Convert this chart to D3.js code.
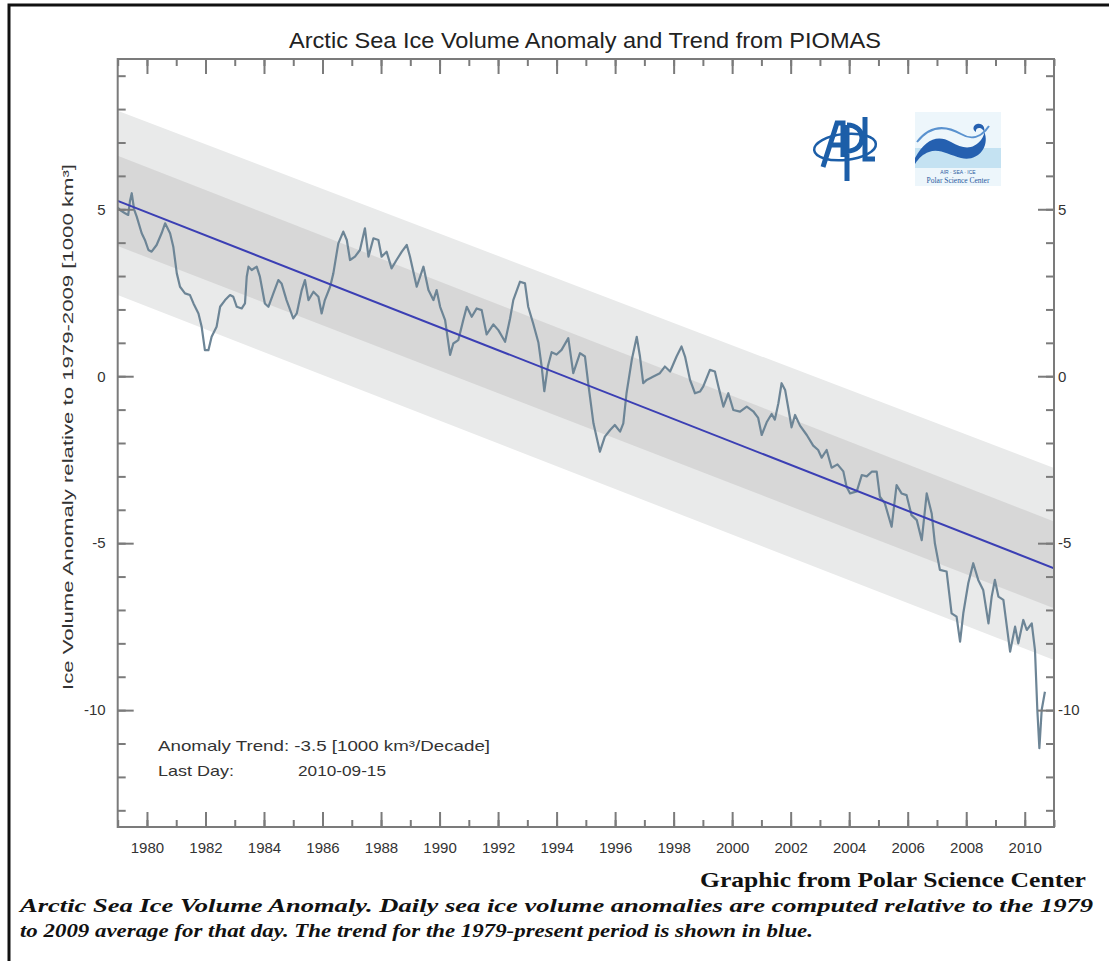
<!DOCTYPE html>
<html><head><meta charset="utf-8">
<script src="https://cdn.jsdelivr.net/npm/d3@7"></script>
<style>html,body{margin:0;padding:0;background:#fff;}svg{display:block;}</style>
</head><body>
<svg id="chart" width="1109" height="961"></svg>
<script>
// ---- data ----
const anomalyYears = [1979.00,1979.12,1979.25,1979.36,1979.42,1979.48,1979.56,1979.65,1979.82,1979.93,1980.05,1980.16,1980.33,1980.50,1980.62,1980.79,1980.90,1981.02,1981.13,1981.30,1981.47,1981.59,1981.76,1981.87,1981.98,1982.10,1982.21,1982.38,1982.50,1982.67,1982.84,1982.95,1983.07,1983.24,1983.35,1983.41,1983.47,1983.58,1983.75,1983.86,1984.03,1984.15,1984.32,1984.49,1984.60,1984.77,1985.00,1985.12,1985.29,1985.40,1985.52,1985.69,1985.86,1985.97,1986.08,1986.26,1986.37,1986.54,1986.71,1986.83,1986.94,1987.11,1987.28,1987.45,1987.57,1987.74,1987.91,1988.02,1988.19,1988.36,1988.53,1988.71,1988.88,1988.99,1989.22,1989.45,1989.62,1989.79,1989.90,1990.02,1990.19,1990.36,1990.47,1990.64,1990.81,1990.93,1991.10,1991.27,1991.44,1991.61,1991.84,1992.01,1992.24,1992.41,1992.52,1992.75,1992.92,1993.03,1993.20,1993.38,1993.49,1993.58,1993.70,1993.83,1994.00,1994.17,1994.40,1994.57,1994.80,1994.97,1995.08,1995.26,1995.48,1995.65,1995.83,1995.99,1996.17,1996.28,1996.39,1996.57,1996.74,1996.85,1996.96,1997.08,1997.31,1997.53,1997.70,1997.88,1998.10,1998.27,1998.39,1998.56,1998.73,1998.90,1999.01,1999.24,1999.41,1999.53,1999.70,1999.87,2000.04,2000.27,2000.50,2000.72,2000.89,2001.01,2001.18,2001.35,2001.46,2001.58,2001.69,2001.81,2001.92,2002.03,2002.15,2002.32,2002.55,2002.77,2002.94,2003.06,2003.23,2003.40,2003.60,2003.80,2003.91,2004.03,2004.26,2004.43,2004.60,2004.77,2004.94,2005.05,2005.22,2005.45,2005.62,2005.79,2005.96,2006.13,2006.31,2006.48,2006.65,2006.82,2006.93,2007.10,2007.33,2007.50,2007.67,2007.79,2007.90,2008.07,2008.24,2008.41,2008.58,2008.76,2008.87,2008.98,2009.10,2009.27,2009.50,2009.67,2009.78,2009.95,2010.07,2010.24,2010.35,2010.43,2010.50,2010.58,2010.69];
const anomalyValues = [5.05,4.95,4.88,4.83,5.25,5.48,5.00,4.78,4.28,4.08,3.78,3.73,3.93,4.28,4.58,4.28,3.88,3.08,2.68,2.48,2.43,2.18,1.88,1.48,0.78,0.78,1.18,1.48,2.08,2.28,2.43,2.38,2.08,2.03,2.18,2.98,3.28,3.18,3.28,2.98,2.18,2.08,2.48,2.88,2.78,2.28,1.73,1.88,2.58,2.88,2.28,2.53,2.38,1.88,2.28,2.68,3.08,3.98,4.33,4.08,3.48,3.58,3.78,4.43,3.58,4.13,4.08,3.58,3.73,3.23,3.48,3.73,3.93,3.58,2.68,3.28,2.58,2.28,2.58,2.08,1.68,0.64,0.98,1.08,1.68,2.08,1.78,2.03,1.98,1.25,1.55,1.38,1.03,1.73,2.28,2.83,2.78,2.08,1.58,1.00,0.29,-0.45,0.29,0.72,0.65,0.79,1.14,0.09,0.69,0.59,-0.21,-1.41,-2.26,-1.81,-1.61,-1.46,-1.66,-1.41,-0.51,0.49,1.18,0.59,-0.21,-0.11,-0.01,0.09,0.29,0.14,0.59,0.89,0.59,-0.11,-0.51,-0.46,-0.31,0.19,0.14,-0.31,-0.91,-0.51,-1.01,-1.06,-0.91,-1.05,-1.25,-1.76,-1.38,-1.13,-1.30,-0.81,-0.21,-0.41,-0.96,-1.53,-1.16,-1.48,-1.76,-2.08,-2.21,-2.44,-2.21,-2.74,-2.64,-2.85,-3.31,-3.51,-3.45,-2.96,-3.00,-2.86,-2.86,-3.61,-3.81,-4.51,-3.26,-3.51,-3.56,-4.16,-4.31,-4.91,-3.51,-4.11,-5.01,-5.80,-5.85,-7.10,-7.20,-7.95,-7.10,-6.20,-5.60,-6.10,-6.40,-7.40,-6.60,-6.10,-6.60,-6.70,-8.25,-7.50,-8.00,-7.30,-7.60,-7.40,-8.20,-9.99,-11.14,-9.99,-9.45];

const trendYears = [1979, 2011];
const trendValues = [5.25, -5.75];
const innerBandUpper = [6.60, -4.35];
const innerBandLower = [3.90, -6.95];
const outerBandUpper = [7.95, -2.75];
const outerBandLower = [2.43, -8.50];

const xDomain = [1979, 2011];
const yDomain = [-13.5, 9.5];
const xMajorTicks = [1980,1982,1984,1986,1988,1990,1992,1994,1996,1998,2000,2002,2004,2006,2008,2010];
const xMinorTicks = d3.range(1979, 2012, 1);
const yMajorTicks = [-10,-5,0,5];
const yMinorTicks = d3.range(-13, 10, 1);

const titleText = "Arctic Sea Ice Volume Anomaly and Trend from PIOMAS";
const yLabelText = "Ice Volume Anomaly relative to 1979-2009 [1000 km³]";
const trendNote = "Anomaly Trend: -3.5 [1000 km³/Decade]";
const lastDayLabel = "Last Day:";
const lastDayValue = "2010-09-15";
const creditText = "Graphic from Polar Science Center";
const captionLines = ["Arctic Sea Ice Volume Anomaly. Daily sea ice volume anomalies are computed relative to the 1979",
                      "to 2009 average for that day. The trend for the 1979-present period is shown in blue."];

// ---- layout ----
const W = 1109, H = 961;
const plot = {left: 117.7, top: 59, right: 1054, bottom: 827};
const svg = d3.select("#chart");
svg.append("rect").attr("width", W).attr("height", H).attr("fill", "#fff");

// outer frame
svg.append("path").attr("d", `M9,${H} V5 H${W}`).attr("fill", "none")
   .attr("stroke", "#111").attr("stroke-width", 3);

const x = d3.scaleLinear().domain(xDomain).range([plot.left, plot.right]);
const y = d3.scaleLinear().domain(yDomain).range([plot.bottom, plot.top]);

svg.append("clipPath").attr("id", "clip").append("rect")
  .attr("x", plot.left).attr("y", plot.top)
  .attr("width", plot.right - plot.left).attr("height", plot.bottom - plot.top);

const g = svg.append("g").attr("clip-path", "url(#clip)");

function band(up, lo) {
  const pts = trendYears.map((t, i) => ({t, u: up[i], l: lo[i]}));
  return d3.area().x(d => x(d.t)).y0(d => y(d.l)).y1(d => y(d.u))(pts);
}
g.append("path").attr("d", band(outerBandUpper, outerBandLower)).attr("fill", "#e9eaea");
g.append("path").attr("d", band(innerBandUpper, innerBandLower)).attr("fill", "#d7d7d7");

const series = anomalyYears.map((t, i) => ({t, v: anomalyValues[i]}));
g.append("path").datum(series)
  .attr("d", d3.line().x(d => x(d.t)).y(d => y(d.v)))
  .attr("fill", "none").attr("stroke", "#6d8596").attr("stroke-width", 2.2)
  .attr("stroke-linejoin", "round");

const trend = trendYears.map((t, i) => ({t, v: trendValues[i]}));
g.append("path").datum(trend)
  .attr("d", d3.line().x(d => x(d.t)).y(d => y(d.v)))
  .attr("fill", "none").attr("stroke", "#3b3fb4").attr("stroke-width", 2);

// ---- axes ----
const axisColor = "#7b7b7b";
const hyphenFmt = d => String(d);   // plain hyphen-minus as in the reference
function styleAxis(sel) {
  sel.select(".domain").remove();
  sel.selectAll(".tick line").attr("stroke", axisColor).attr("stroke-width", 2);
  sel.selectAll(".tick text").attr("fill", "#333").style("font-family", "'Liberation Sans', Arial, sans-serif").style("font-size", "15px");
}
// bottom
svg.append("g").attr("transform", `translate(0,${plot.bottom})`)
  .call(d3.axisBottom(x).tickValues(xMinorTicks).tickSize(-7).tickFormat(""))
  .call(styleAxis);
svg.append("g").attr("transform", `translate(0,${plot.bottom})`)
  .call(d3.axisBottom(x).tickValues(xMajorTicks).tickSize(-15).tickPadding(24).tickFormat(hyphenFmt))
  .call(styleAxis)
  .call(s => s.selectAll(".tick text").attr("dy", "0.15em"));
// top
svg.append("g").attr("transform", `translate(0,${plot.top})`)
  .call(d3.axisTop(x).tickValues(xMinorTicks).tickSize(-7).tickFormat(""))
  .call(styleAxis);
svg.append("g").attr("transform", `translate(0,${plot.top})`)
  .call(d3.axisTop(x).tickValues(xMajorTicks).tickSize(-15).tickFormat(""))
  .call(styleAxis);
// left
svg.append("g").attr("transform", `translate(${plot.left},0)`)
  .call(d3.axisLeft(y).tickValues(yMinorTicks).tickSize(-8).tickFormat(""))
  .call(styleAxis);
svg.append("g").attr("transform", `translate(${plot.left},0)`)
  .call(d3.axisLeft(y).tickValues(yMajorTicks).tickSize(-16).tickFormat(hyphenFmt))
  .call(styleAxis)
  .call(s => s.selectAll(".tick text").attr("x", -12));
// right
svg.append("g").attr("transform", `translate(${plot.right},0)`)
  .call(d3.axisRight(y).tickValues(yMinorTicks).tickSize(-8).tickFormat(""))
  .call(styleAxis);
svg.append("g").attr("transform", `translate(${plot.right},0)`)
  .call(d3.axisRight(y).tickValues(yMajorTicks).tickSize(-16).tickFormat(hyphenFmt))
  .call(styleAxis)
  .call(s => s.selectAll(".tick text").attr("x", 4));

// frame
svg.append("rect").attr("x", plot.left).attr("y", plot.top)
  .attr("width", plot.right - plot.left).attr("height", plot.bottom - plot.top)
  .attr("fill", "none").attr("stroke", axisColor).attr("stroke-width", 2);

// ---- texts ----
const sans = "'Liberation Sans', Arial, sans-serif";
svg.append("text").attr("x", 585).attr("y", 48).attr("text-anchor", "middle")
  .attr("textLength", 592).attr("lengthAdjust", "spacingAndGlyphs")
  .style("font-family", "'Liberation Sans Narrow', " + sans).style("font-size", "22px").attr("fill", "#222")
  .text(titleText);

svg.append("text").attr("transform", `translate(73,427) rotate(-90)`)
  .attr("text-anchor", "middle").attr("textLength", 526).attr("lengthAdjust", "spacingAndGlyphs")
  .style("font-family", sans).style("font-size", "15px").attr("fill", "#333")
  .text(yLabelText);

svg.append("text").attr("x", 158).attr("y", 751).attr("textLength", 332).attr("lengthAdjust", "spacingAndGlyphs")
  .style("font-family", sans).style("font-size", "15px").attr("fill", "#333").text(trendNote);
svg.append("text").attr("x", 158).attr("y", 776).attr("textLength", 76).attr("lengthAdjust", "spacingAndGlyphs")
  .style("font-family", sans).style("font-size", "15px").attr("fill", "#333").text(lastDayLabel);
svg.append("text").attr("x", 298).attr("y", 776).attr("textLength", 88).attr("lengthAdjust", "spacingAndGlyphs")
  .style("font-family", sans).style("font-size", "15px").attr("fill", "#333").text(lastDayValue);

const serif = "'Liberation Serif', 'DejaVu Serif', serif";
svg.append("text").attr("x", 1086).attr("y", 887).attr("text-anchor", "end")
  .attr("textLength", 386).attr("lengthAdjust", "spacingAndGlyphs")
  .style("font-family", serif).style("font-weight", "bold").style("font-size", "21px").attr("fill", "#111")
  .text(creditText);
const capLens = [1073, 793];
captionLines.forEach((t, i) => {
  svg.append("text").attr("x", 20).attr("y", 912 + i * 25)
    .attr("textLength", capLens[i]).attr("lengthAdjust", "spacingAndGlyphs")
    .style("font-family", serif).style("font-weight", "bold").style("font-style", "italic")
    .style("font-size", "19px").attr("fill", "#111").text(t);
});

// ---- logos (decorative) ----
const blue = "#1c5ea8";
const apl = svg.append("g").attr("transform", "translate(845,147)");
apl.append("ellipse").attr("rx", 31).attr("ry", 13).attr("transform", "rotate(-6)")
  .attr("fill", "none").attr("stroke", blue).attr("stroke-width", 2.5);
apl.append("path").attr("d", "M-22,20 L-8,-24 L-2,-24 L-2,10 M-14,-2 L-2,-2")
  .attr("fill", "none").attr("stroke", blue).attr("stroke-width", 5);
apl.append("path").attr("d", "M2,-22 L2,34 M2,-22 C22,-22 22,4 2,4")
  .attr("fill", "none").attr("stroke", blue).attr("stroke-width", 5);
apl.append("path").attr("d", "M20,-30 L20,12 L30,12")
  .attr("fill", "none").attr("stroke", blue).attr("stroke-width", 5);

const psc = svg.append("g").attr("transform", "translate(915,112)");
psc.append("rect").attr("width", 86).attr("height", 74).attr("fill", "#edf6fb");
psc.append("rect").attr("y", 36).attr("width", 86).attr("height", 20).attr("fill", "#c4e2f2");
psc.append("path").attr("d", "M0,46 C10,28 22,22 36,30 C48,37 58,38 66,28 C72,20 70,10 62,12 C58,13 57,18 61,20 C60,15 68,14 70,22 C74,36 62,50 46,46 C34,43 24,36 14,40 C8,42 4,46 0,52 Z")
  .attr("fill", "#2560b0");
psc.append("path").attr("d", "M2,30 C16,12 32,14 46,22 C56,28 66,26 74,14")
  .attr("fill", "none").attr("stroke", "#5a92cf").attr("stroke-width", 2);
psc.append("text").attr("x", 43).attr("y", 62).attr("text-anchor", "middle")
  .style("font-family", sans).style("font-size", "5px").attr("fill", "#2a5aa0").text("AIR  ·  SEA  ·  ICE");
psc.append("text").attr("x", 43).attr("y", 71).attr("text-anchor", "middle")
  .style("font-family", serif).style("font-size", "7.5px").attr("fill", "#2a5aa0").text("Polar Science Center");
</script>
</body></html>
